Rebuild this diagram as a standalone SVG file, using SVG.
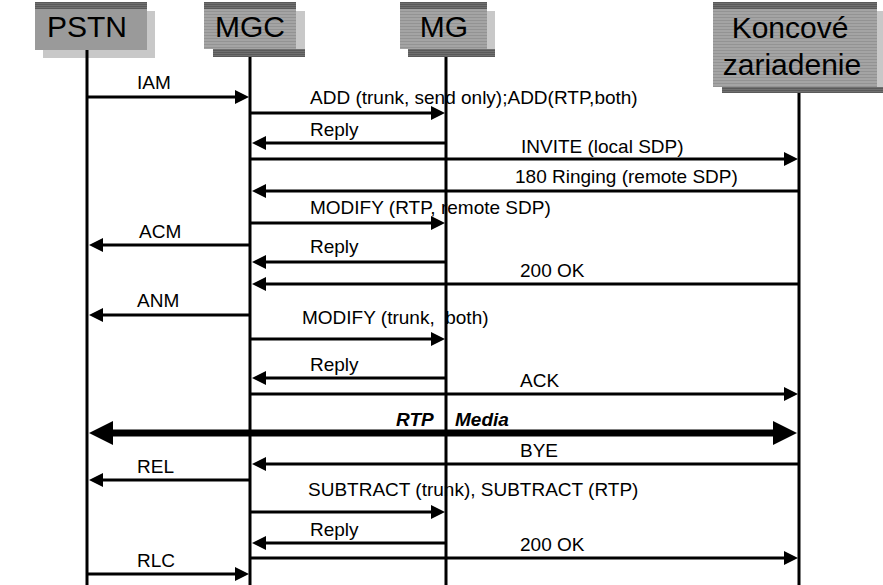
<svg xmlns="http://www.w3.org/2000/svg" width="883" height="585" viewBox="0 0 883 585">
<defs>
<pattern id="stripe" width="4" height="3" patternUnits="userSpaceOnUse">
<rect width="4" height="3" fill="#a4a4a4"/><rect y="2" width="4" height="1" fill="#939393"/>
</pattern>
<pattern id="dark" width="4" height="2" patternUnits="userSpaceOnUse">
<rect width="4" height="2" fill="#5a5a5a"/><rect y="1" width="4" height="1" fill="#707070"/>
</pattern>
<marker id="ah" markerUnits="userSpaceOnUse" markerWidth="14" markerHeight="14" viewBox="0 0 14 14" refX="1" refY="7" orient="auto">
<path d="M0,0 L14,7 L0,14 z" fill="#000"/>
</marker>
<marker id="bh" markerUnits="userSpaceOnUse" markerWidth="24" markerHeight="24" viewBox="0 0 24 24" refX="1" refY="12" orient="auto-start-reverse">
<path d="M0,0 L24,12 L0,24 z" fill="#000"/>
</marker>
</defs>
<style>
.msg{stroke:#000;stroke-width:3;fill:none;marker-end:url(#ah)}
.media{stroke:#000;stroke-width:7;fill:none;marker-start:url(#bh);marker-end:url(#bh)}
.life{stroke:#000;stroke-width:3}
.lbl{font-family:"Liberation Sans",Arial,sans-serif;font-size:19px;fill:#000;white-space:pre}
.bi{font-weight:bold;font-style:italic}
.hdr{font-family:"Liberation Sans",Arial,sans-serif;font-size:30px;fill:#000;text-anchor:middle}
.shl{fill:#c8c8c8}
.top{fill:url(#dark)}
</style>
<rect width="883" height="585" fill="#fff"/>

<g id="connectors">
<line class="msg" x1="87" y1="97" x2="236" y2="97"/>
<text class="lbl" x="137" y="89">IAM</text>
<line class="msg" x1="250" y1="113" x2="432" y2="113"/>
<text class="lbl" x="310" y="104">ADD (trunk, send only);ADD(RTP,both)</text>
<line class="msg" x1="446" y1="143" x2="265" y2="143"/>
<text class="lbl" x="310" y="136">Reply</text>
<line class="msg" x1="250" y1="159" x2="785" y2="159"/>
<text class="lbl" x="521" y="153">INVITE (local SDP)</text>
<line class="msg" x1="799" y1="191" x2="265" y2="191"/>
<text class="lbl" x="515" y="183">180 Ringing (remote SDP)</text>
<line class="msg" x1="250" y1="223" x2="432" y2="223"/>
<text class="lbl" x="310" y="214">MODIFY (RTP, remote SDP)</text>
<line class="msg" x1="250" y1="245" x2="102" y2="245"/>
<text class="lbl" x="139" y="238">ACM</text>
<line class="msg" x1="446" y1="262" x2="265" y2="262"/>
<text class="lbl" x="310" y="253">Reply</text>
<line class="msg" x1="799" y1="284" x2="265" y2="284"/>
<text class="lbl" x="520" y="277">200 OK</text>
<line class="msg" x1="250" y1="315" x2="102" y2="315"/>
<text class="lbl" x="137" y="307">ANM</text>
<line class="msg" x1="250" y1="339" x2="432" y2="339"/>
<text class="lbl" x="302" y="324">MODIFY (trunk,  both)</text>
<line class="msg" x1="446" y1="378" x2="265" y2="378"/>
<text class="lbl" x="310" y="371">Reply</text>
<line class="msg" x1="250" y1="394" x2="785" y2="394"/>
<text class="lbl" x="520" y="387">ACK</text>
<line class="media" x1="112" y1="433" x2="774" y2="433"/>
<text class="lbl bi" x="396" y="426">RTP</text>
<text class="lbl bi" x="455" y="426">Media</text>
<line class="msg" x1="799" y1="464" x2="265" y2="464"/>
<text class="lbl" x="520" y="457">BYE</text>
<line class="msg" x1="250" y1="480" x2="102" y2="480"/>
<text class="lbl" x="137" y="473">REL</text>
<line class="msg" x1="250" y1="512" x2="432" y2="512"/>
<text class="lbl" x="308" y="496">SUBTRACT (trunk), SUBTRACT (RTP)</text>
<line class="msg" x1="446" y1="543" x2="265" y2="543"/>
<text class="lbl" x="310" y="536">Reply</text>
<line class="msg" x1="250" y1="558" x2="785" y2="558"/>
<text class="lbl" x="520" y="551">200 OK</text>
<line class="msg" x1="87" y1="574" x2="236" y2="574"/>
<text class="lbl" x="137" y="567">RLC</text>
</g>

<g id="pstn">
<rect class="shl" x="43" y="11" width="112" height="47"/>
<rect x="35" y="2" width="112" height="48" fill="#9a9a9a"/>
<rect class="top" x="35" y="2" width="112" height="7"/>
<text class="hdr" x="87" y="37">PSTN</text>
<line class="life" x1="87" y1="50" x2="87" y2="585"/>
</g>

<g id="mgc">
<rect class="shl" x="213" y="11" width="92" height="46"/>
<rect class="top" x="213" y="49" width="92" height="8"/>
<rect x="204" y="2" width="92" height="47" fill="url(#stripe)"/>
<rect class="top" x="204" y="2" width="92" height="7"/>
<text class="hdr" x="250" y="37">MGC</text>
<line class="life" x1="250" y1="57" x2="250" y2="585"/>
</g>

<g id="mg">
<rect class="shl" x="408" y="11" width="87" height="46"/>
<rect class="top" x="408" y="49" width="87" height="8"/>
<rect x="400" y="2" width="87" height="47" fill="url(#stripe)"/>
<rect class="top" x="400" y="2" width="87" height="7"/>
<text class="hdr" x="444" y="37">MG</text>
<line class="life" x1="446" y1="57" x2="446" y2="585"/>
</g>

<g id="koncove">
<rect class="shl" x="722" y="11" width="161" height="82"/>
<rect class="top" x="722" y="87" width="161" height="6"/>
<rect x="713" y="2" width="164" height="85" fill="url(#stripe)"/>
<rect class="top" x="713" y="2" width="164" height="7"/>
<text class="hdr" x="790" y="38">Koncové</text>
<text class="hdr" x="792" y="75">zariadenie</text>
<line class="life" x1="799" y1="93" x2="799" y2="585"/>
</g>
</svg>
